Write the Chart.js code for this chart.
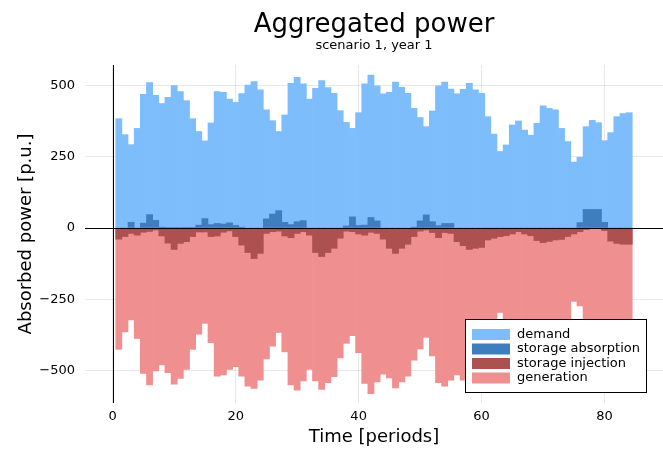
<!DOCTYPE html>
<html><head><meta charset="utf-8">
<script src="https://cdn.jsdelivr.net/npm/chart.js@4.4.1/dist/chart.umd.min.js"></script>
<style>html,body{margin:0;padding:0;background:#fff;}#wrap{width:663px;height:450px;}</style>
</head><body><div id="wrap"><canvas id="c" width="663" height="450"></canvas></div>
<script>
// ---- data ----
const demand = [383,327,292,349,468,509,465,436,458,499,478,446,383,338,305,368,478,475,452,440,
  471,501,513,484,414,376,338,396,507,528,505,452,489,516,492,472,411,370,349,404,
  505,536,498,470,475,511,493,472,419,387,355,410,498,511,487,470,486,507,484,472,
  390,329,268,291,361,375,343,325,367,428,419,414,349,303,231,248,355,377,369,306,
  334,390,401,404];
const storageAbsorption = [0,0,20,0,17,47,27,3,2,2,2,2,2,10,33,12,16,14,18,9,
  3,0,0,0,32,49,61,20,12,22,26,0,0,0,0,0,0,7,39,9,
  10,37,25,0,0,0,0,0,3,25,46,22,8,16,16,0,0,0,0,0,
  0,0,0,0,0,0,0,0,0,0,0,0,0,0,0,19,65,65,65,20,
  0,0,0,0];
const storageInjection = [-39,-30,-19,-25,-15,-12,-7,-28,-53,-75,-54,-48,-30,-14,-14,-30,-28,-15,-10,-30,
  -60,-86,-107,-89,-19,-13,-11,-28,-34,-19,-13,-25,-86,-100,-86,-71,-36,-11,-13,-21,
  -25,-15,-19,-39,-71,-89,-71,-57,-30,-11,-7,-16,-34,-16,-19,-48,-62,-75,-71,-68,
  -42,-36,-30,-27,-21,-13,-21,-27,-44,-51,-47,-42,-40,-30,-21,-13,-5,-1,-1,-9,
  -46,-54,-57,-57];
const generation = [-425,-364,-322,-387,-509,-550,-501,-480,-507,-547,-527,-495,-425,-372,-334,-402,-519,-515,-495,-486,
  -519,-554,-562,-533,-459,-414,-366,-434,-550,-568,-536,-495,-536,-565,-542,-521,-455,-404,-377,-437,
  -544,-580,-539,-512,-525,-560,-539,-519,-463,-424,-383,-448,-542,-554,-533,-515,-533,-553,-528,-515,
  -425,-359,-296,-325,-394,-409,-374,-354,-400,-467,-457,-451,-380,-330,-257,-273,-387,-411,-402,-334,
  -364,-425,-437,-440];
const xTicks = [0,20,40,60,80];
const yTicks = [-500,-250,0,250,500];
const seriesLabels = ['demand','storage absorption','storage injection','generation'];
const periods = demand.map((_, i) => i + 1);

// ---- styles ----
const FONT = 'DejaVu Sans';
const colors = ['rgb(125,189,252)','rgb(62,126,190)','rgb(172,80,80)','rgb(240,143,143)'];
const drawOrder = [1,0,0,1];
const seriesValues = [demand, storageAbsorption, storageInjection, generation];

Chart.defaults.font.family = FONT;
Chart.defaults.color = '#000';

const zeroLines = {
  id: 'zeroLines',
  afterDatasetsDraw(chart) {
    const {ctx, chartArea, scales} = chart;
    const y0 = Math.round(scales.y.getPixelForValue(0)) + 0.5;
    const x0 = Math.round(scales.x.getPixelForValue(0)) + 0.5;
    ctx.save();
    ctx.strokeStyle = '#000';
    ctx.lineWidth = 1;
    ctx.beginPath();
    ctx.moveTo(chartArea.left, y0); ctx.lineTo(chartArea.right, y0);
    ctx.moveTo(x0, chartArea.top); ctx.lineTo(x0, chartArea.bottom);
    ctx.stroke();
    ctx.restore();
  }
};

const boxLegend = {
  id: 'boxLegend',
  afterDraw(chart) {
    const {ctx, chartArea} = chart;
    ctx.save();
    ctx.font = '13px "' + FONT + '"';
    const ds = chart.data.datasets;
    const textW = Math.max(...ds.map(d => ctx.measureText(d.label).width));
    const w = Math.round(52 + textW + 6), h = 73;
    const right = chartArea.right - 17, bottom = chartArea.bottom - 11;
    const left = Math.round(right - w) + 0.5, top = Math.round(bottom - h) + 0.5;
    ctx.fillStyle = '#fff';
    ctx.fillRect(left, top, w, h);
    ctx.strokeStyle = '#000';
    ctx.lineWidth = 1;
    ctx.strokeRect(left, top, w, h);
    ds.forEach((d, i) => {
      const cy = top + 15 + i * 14.5;
      ctx.fillStyle = d.backgroundColor;
      ctx.fillRect(left + 6.5, cy - 5.5, 38, 11);
      ctx.fillStyle = '#000';
      ctx.textBaseline = 'middle';
      ctx.textAlign = 'left';
      ctx.fillText(d.label, left + 51.5, cy);
    });
    ctx.restore();
  }
};

const datasets = seriesLabels.map((label, k) => ({
  label,
  data: periods.map((p, i) => ({x: p, y: seriesValues[k][i]})),
  backgroundColor: colors[k],
  borderWidth: 0,
  barPercentage: 1,
  categoryPercentage: 1,
  grouped: false,
  order: drawOrder[k]
}));

new Chart(document.getElementById('c'), {
  type: 'bar',
  data: {datasets},
  options: {
    responsive: false,
    animation: false,
    devicePixelRatio: 1,
    layout: {padding: 0},
    plugins: {
      legend: {display: false},
      tooltip: {enabled: false},
      title: {
        display: true, text: 'Aggregated power', fullSize: false, color: '#000',
        font: {size: 26, weight: 'normal', lineHeight: 1},
        padding: {top: 12, bottom: 0}
      },
      subtitle: {
        display: true, text: 'scenario 1, year 1', fullSize: false, color: '#000',
        font: {size: 13, weight: 'normal', lineHeight: 1.2},
        padding: {top: 0, bottom: 11.4}
      }
    },
    scales: {
      x: {
        type: 'linear', min: -4.5, max: 89.5, offset: false,
        afterBuildTicks(s) { s.ticks = xTicks.map(v => ({value: v})); },
        afterFit(s) { s.height = 47; },
        ticks: {font: {size: 13}, color: '#000', padding: 6, maxRotation: 0},
        grid: {color: 'rgba(0,0,0,0.09)', drawTicks: false, offset: false},
        border: {display: false},
        title: {display: true, text: 'Time [periods]', color: '#000',
          font: {size: 18, lineHeight: 1.2}, padding: {top: 0, bottom: 2}}
      },
      y: {
        type: 'linear', min: -613, max: 571,
        afterBuildTicks(s) { s.ticks = yTicks.map(v => ({value: v})); },
        afterFit(s) { s.width = 85; },
        ticks: {font: {size: 13}, color: '#000', padding: 10,
          callback: v => String(v).replace('-', '\u2212')},
        grid: {color: 'rgba(0,0,0,0.09)', drawTicks: false},
        border: {display: false},
        title: {display: true, text: 'Absorbed power [p.u.]', color: '#000',
          font: {size: 18, lineHeight: 1.2}, padding: {top: 16, bottom: 0}}
      }
    }
  },
  plugins: [zeroLines, boxLegend]
});
</script>
</body></html>
